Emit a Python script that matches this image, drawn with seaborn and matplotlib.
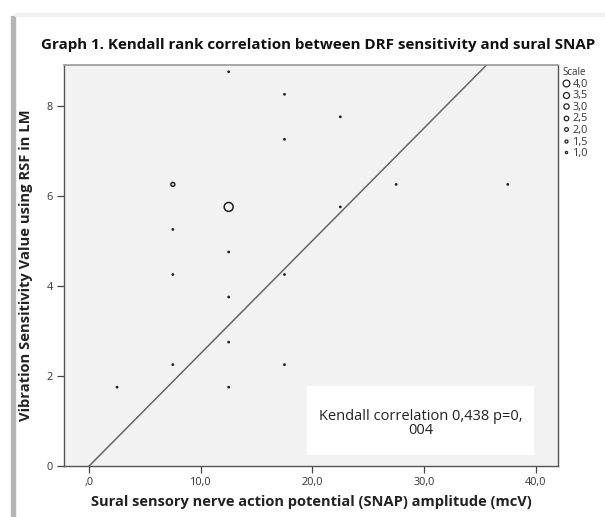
import matplotlib
matplotlib.use("Agg")
import matplotlib.pyplot as plt
from matplotlib.lines import Line2D
from matplotlib.patches import Rectangle
import seaborn as sns
import numpy as np
import pandas as pd

# ---- data ----
snap_amp = [12.5, 17.5, 17.5, 22.5, 7.5, 12.5, 22.5, 27.5, 37.5, 7.5,
            12.5, 7.5, 17.5, 12.5, 12.5, 7.5, 17.5, 2.5, 12.5]
vib_value = [8.75, 8.25, 7.25, 7.75, 6.25, 5.75, 5.75, 6.25, 6.25, 5.25,
             4.75, 4.25, 4.25, 3.75, 2.75, 2.25, 2.25, 1.75, 1.75]
scale_n = [1.0, 1.0, 1.0, 1.0, 2.0, 4.0, 1.0, 1.0, 1.0, 1.0,
           1.0, 1.0, 1.0, 1.0, 1.0, 1.0, 1.0, 1.0, 1.0]
legend_levels = [4.0, 3.5, 3.0, 2.5, 2.0, 1.5, 1.0]
fit_slope = 0.25
fit_intercept = 0.0
x_ticks = [0, 10, 20, 30, 40]
x_ticklabels = [",0", "10,0", "20,0", "30,0", "40,0"]
y_ticks = [0, 2, 4, 6, 8]
y_ticklabels = ["0", "2", "4", "6", "8"]
annotation = "Kendall correlation 0,438 p=0,\n004"

df = pd.DataFrame({"x": snap_amp, "y": vib_value, "n": scale_n})

def marker_area(n):
    return 0.8 + (n - 1.0) ** 1.6 * 7.0

sns.set_style("white")
plt.rcParams["font.family"] = ["Open Sans", "DejaVu Sans"]

fig = plt.figure(figsize=(6.05, 5.17), dpi=100)
fig.patch.set_facecolor("white")
# page frame decoration
fig.patches.append(Rectangle((11 / 605, 0), 4 / 605, (517 - 16) / 517,
                             transform=fig.transFigure, color="#b5b5b5", zorder=0))
fig.patches.append(Rectangle((15 / 605, (517 - 16) / 517), 590 / 605, 3 / 517,
                             transform=fig.transFigure, color="#f1f1f1", zorder=0))

ax = fig.add_axes([64 / 605, 51 / 517, 494 / 605, 401 / 517])
ax.set_facecolor("#f2f2f2")

sizes_map = {v: marker_area(v) for v in sorted(set(scale_n))}
sns.scatterplot(data=df, x="x", y="y", size="n", sizes=sizes_map,
                facecolors="none", edgecolor="#1f1f1f", linewidth=1.1,
                color="#1f1f1f", legend=False, ax=ax, zorder=3)

# fit line
line_x = np.array([0.0, 45.0])
line_df = pd.DataFrame({"x": line_x, "y": fit_intercept + fit_slope * line_x})
sns.lineplot(data=line_df, x="x", y="y", color="#666666", linewidth=1.1, ax=ax,
             zorder=2)

ax.set_xlim(-2.25, 42.0)
ax.set_ylim(0, 8.9)
ax.set_xticks(x_ticks)
ax.set_xticklabels(x_ticklabels)
ax.set_yticks(y_ticks)
ax.set_yticklabels(y_ticklabels)
ax.tick_params(axis="both", direction="out", length=5, width=0.9,
               color="#444444", labelsize=7.8, labelcolor="#333333", pad=3,
               left=True, bottom=True)

for side in ["left", "bottom", "right"]:
    ax.spines[side].set_color("#555555")
    ax.spines[side].set_linewidth(1.0)
ax.spines["top"].set_color("#999999")
ax.spines["top"].set_linewidth(1.2)

ax.set_xlabel("Sural sensory nerve action potential (SNAP) amplitude (mcV)",
              fontsize=10.5, fontweight="bold", color="#222222", labelpad=5)
ax.set_ylabel("Vibration Sensitivity Value using RSF in LM",
              fontsize=10.6, fontweight="bold", color="#222222", labelpad=10)

# annotation box
ax.add_patch(Rectangle((19.55, 0.24), 20.3, 1.54, facecolor="white",
                       edgecolor="none", zorder=4))
ax.text(29.7, 0.94, annotation, ha="center", va="center", fontsize=10.5,
        color="#222222", zorder=5, linespacing=0.95)

fig.text(318 / 605, (517 - 45) / 517,
         "Graph 1. Kendall rank correlation between DRF sensitivity and sural SNAP",
         ha="center", va="center", fontsize=10.9, fontweight="bold",
         color="#111111")

# legend
handles = [Line2D([], [], linestyle="none", marker="o",
                  markersize=1.6 + (v - 1.0) * 1.1,
                  markerfacecolor="none", markeredgecolor="#222222",
                  markeredgewidth=0.9, label=f"{v:.1f}".replace(".", ","))
           for v in legend_levels]
leg = fig.legend(handles=handles, title="Scale", loc="upper left",
                 bbox_to_anchor=(559 / 605, (517 - 64) / 517), frameon=False,
                 fontsize=7.8, title_fontsize=7, handlelength=0.6,
                 handletextpad=0.35, labelspacing=0.05, borderpad=0.3,
                 borderaxespad=0.0)
leg._legend_box.align = "left"
for t in leg.get_texts():
    t.set_color("#333333")
leg.get_title().set_color("#333333")

fig.savefig("out.png", dpi=100)
